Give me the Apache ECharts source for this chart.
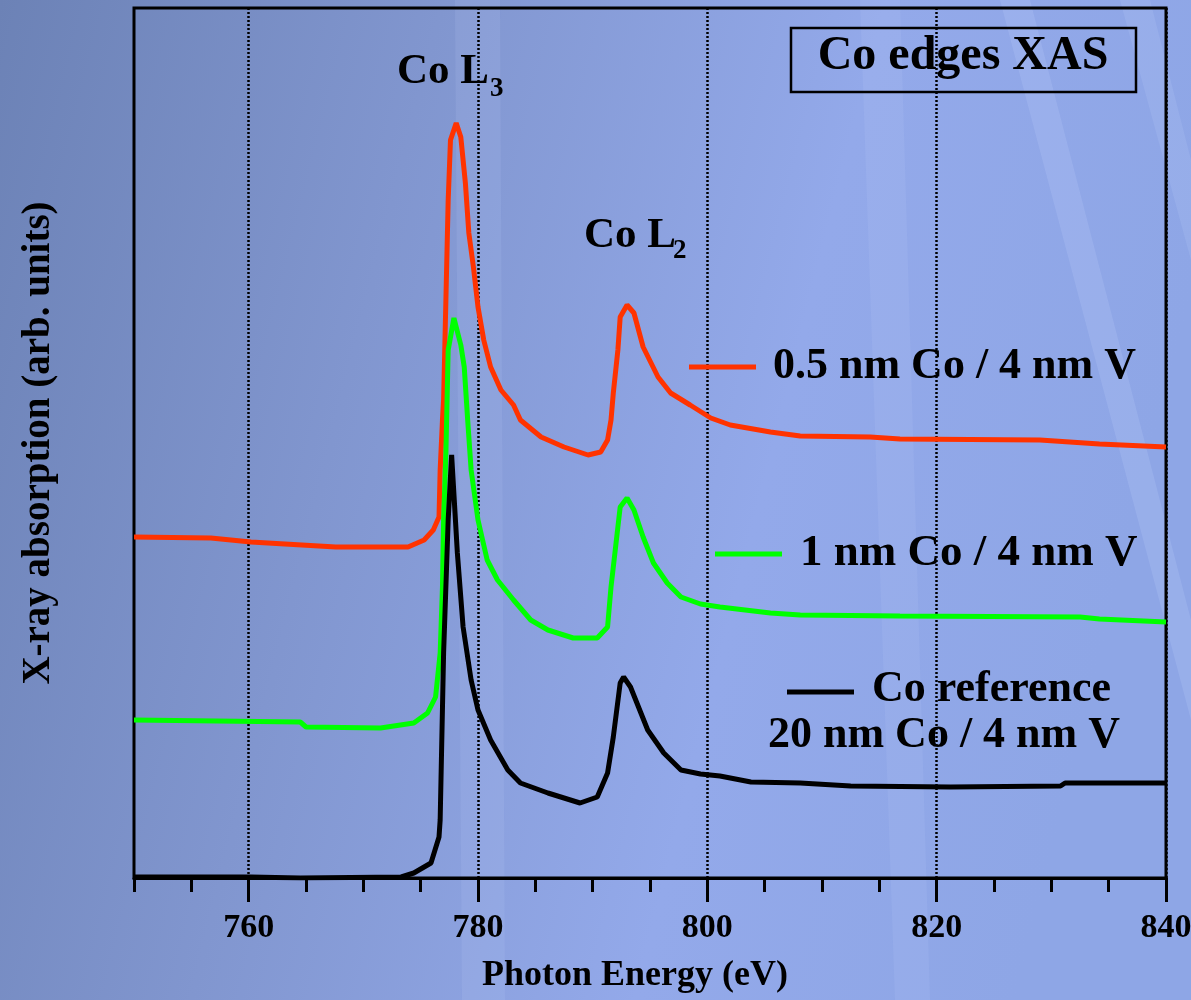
<!DOCTYPE html>
<html>
<head>
<meta charset="utf-8">
<script src="https://cdn.jsdelivr.net/npm/echarts@6/dist/echarts.min.js"></script>
<style>
html,body{margin:0;padding:0;}
#c{width:1191px;height:1000px;}
</style>
</head>
<body>
<div id="c"></div>
<script>
// ---- data (photon energy in eV, absorption in arb. units with vertical offsets) ----
const refX = [750,760.2,764.5,773.3,774.4,775.9,776.6,776.7,777.0,777.4,777.7,778.2,778.7,779.4,780.0,781.1,782.6,783.7,786.1,788.9,790.4,791.3,791.8,792.4,792.7,793.3,794.8,796.2,797.7,799.4,801.1,803.8,808.1,812.5,821.2,830.8,831.2,840];
const refY = [0.1,0.1,0.0,0.1,0.5,1.5,4.1,5.8,22.5,35.8,42.3,32.5,25.1,19.8,16.8,13.8,10.8,9.5,8.5,7.5,8.1,10.5,14.1,19.5,20.1,19.1,14.8,12.5,10.8,10.4,10.2,9.6,9.5,9.2,9.1,9.2,9.5,9.5];

const oneX = [750,764.5,765.0,771.5,774.4,775.6,776.3,776.7,776.9,777.0,777.2,777.4,777.9,778.5,778.8,779.1,779.4,780.0,780.8,781.7,783.1,784.6,786.1,788.3,790.4,791.3,791.6,792.0,792.4,793.0,793.6,794.4,795.3,796.5,797.7,799.4,801.1,805.5,808.1,816.8,832.5,834.2,840];
const oneY = [15.8,15.6,15.1,15.0,15.5,16.5,18.1,22.5,29.1,35.8,42.5,52.8,56.0,53.3,51.1,45.8,40.8,35.8,31.8,29.8,27.8,25.8,24.8,24.0,24.0,25.1,29.1,33.1,37.1,38.0,36.8,34.1,31.5,29.5,28.1,27.4,27.1,26.5,26.3,26.2,26.1,25.9,25.6];

const halfX = [750,756.7,760.2,767.6,773.9,775.3,776.1,776.6,776.7,776.9,777.0,777.2,777.4,777.6,778.1,778.5,778.9,779.2,779.6,780.0,780.5,781.1,782.0,783.1,783.7,785.5,787.5,789.6,790.7,791.3,791.6,791.8,792.2,792.4,793.0,793.6,794.4,795.7,796.8,798.5,800.3,802.0,805.5,808.1,814.2,816.8,829.0,834.2,840];
const halfY = [34.1,34.0,33.6,33.1,33.1,33.8,34.8,36.1,40.8,45.8,47.8,57.8,67.8,73.8,75.5,74.1,69.5,64.5,61.1,57.1,53.8,51.1,48.8,47.3,45.8,44.1,43.1,42.3,42.6,43.8,45.8,48.5,52.8,56.1,57.3,56.5,53.1,50.1,48.5,47.3,46.0,45.3,44.6,44.2,44.1,43.9,43.8,43.4,43.1];

const majorTicks = [760,780,800,820,840];
const seriesNames = ['0.5 nm Co / 4 nm V','1 nm Co / 4 nm V','Co reference 20 nm Co / 4 nm V'];

const zip = (xs, ys) => xs.map((x,i)=>[x, ys[i]]);
const FONT = '"Liberation Serif", "Times New Roman", serif';

const chart = echarts.init(document.getElementById('c'), null, {renderer:'canvas'});

function txt(x, y, text, size, align) {
  return {type:'text', x:x, y:y, z:100,
    style:{text:text, x:0, y:0, font:'bold '+size+'px '+FONT, fill:'#000', align:align||'left', verticalAlign:'middle'}};
}
function seg(x1,x2,y,color){
  return {type:'line', z:100, shape:{x1:x1,y1:y,x2:x2,y2:y}, style:{stroke:color, lineWidth:5}};
}
function streak(pts, op){
  return {type:'polygon', z:-10, shape:{points:pts}, style:{fill:'rgba(200,215,255,'+op+')'}, silent:true};
}

const option = {
  animation:false,
  backgroundColor:{type:'linear', x:0, y:0, x2:1, y2:0.3, colorStops:[
    {offset:0, color:'#6c82b6'},{offset:0.35, color:'#8196cf'},{offset:0.7, color:'#93a9ea'},{offset:1, color:'#8ea6e6'}]},
  grid:{left:134, top:8, right:25, bottom:122, show:true, borderColor:'#000', borderWidth:3,
        backgroundColor:'transparent', containLabel:false, outerBoundsMode:'none'},
  xAxis:[{
    type:'value', min:750, max:840, position:'bottom',
    axisLine:{show:true, onZero:false, lineStyle:{color:'#000', width:3}},
    axisTick:{show:true, customValues:majorTicks, length:24, lineStyle:{color:'#000', width:3}},
    axisLabel:{customValues:majorTicks, margin:33, fontFamily:FONT, fontWeight:'bold', fontSize:34, color:'#000'},
    splitLine:{show:true, lineStyle:{color:'#000', width:2.5, type:[2,2]}},
    name:'Photon Energy (eV)', nameLocation:'middle', nameGap:80,
    nameTextStyle:{fontFamily:FONT, fontWeight:'bold', fontSize:36, color:'#000', padding:[0,30,0,0]}
  },{
    type:'value', min:750, max:840, interval:5, position:'bottom',
    axisLine:{show:false},
    axisTick:{show:true, length:14, lineStyle:{color:'#000', width:3}},
    axisLabel:{show:false}, splitLine:{show:false}
  }],
  yAxis:{
    type:'value', min:0, max:87,
    axisLine:{show:false}, axisTick:{show:false}, axisLabel:{show:false}, splitLine:{show:false},
    name:'X-ray absorption (arb. units)', nameLocation:'middle', nameGap:76,
    nameTextStyle:{fontFamily:FONT, fontWeight:'bold', fontSize:39, color:'#000'}
  },
  series:[
    {name:seriesNames[0], type:'line', data:zip(halfX, halfY), showSymbol:false, lineStyle:{color:'#ff3300', width:5}, z:5},
    {name:seriesNames[1], type:'line', data:zip(oneX, oneY), showSymbol:false, lineStyle:{color:'#00ff00', width:5}, z:6},
    {name:seriesNames[2], type:'line', data:zip(refX, refY), showSymbol:false, lineStyle:{color:'#000000', width:5}, z:7}
  ],
  graphic:[
    streak([[455,0],[500,0],[505,1000],[462,1000]], 0.12),
    streak([[860,0],[900,0],[930,1000],[895,1000]], 0.12),
    streak([[1000,0],[1030,0],[1191,620],[1191,720]], 0.18),
    streak([[1120,0],[1150,0],[1191,160],[1191,260]], 0.15),
    {type:'rect', z:100, shape:{x:791, y:28, width:345, height:64}, style:{fill:'none', stroke:'#000', lineWidth:2.5}},
    txt(963, 57, 'Co edges XAS', 48, 'center'),
    txt(397, 72, 'Co L', 43),
    txt(490, 89, '3', 27),
    txt(584, 236, 'Co L', 43),
    txt(673, 251, '2', 27),
    seg(689, 756, 367, '#ff3300'),
    txt(773, 367, seriesNames[0], 44),
    seg(715, 782, 554, '#00ff00'),
    txt(800, 553, seriesNames[1], 45),
    seg(787, 854, 692, '#000'),
    txt(872, 690, 'Co reference', 44),
    txt(768, 736, '20 nm Co / 4 nm V', 44)
  ]
};
chart.setOption(option);
</script>
</body>
</html>
